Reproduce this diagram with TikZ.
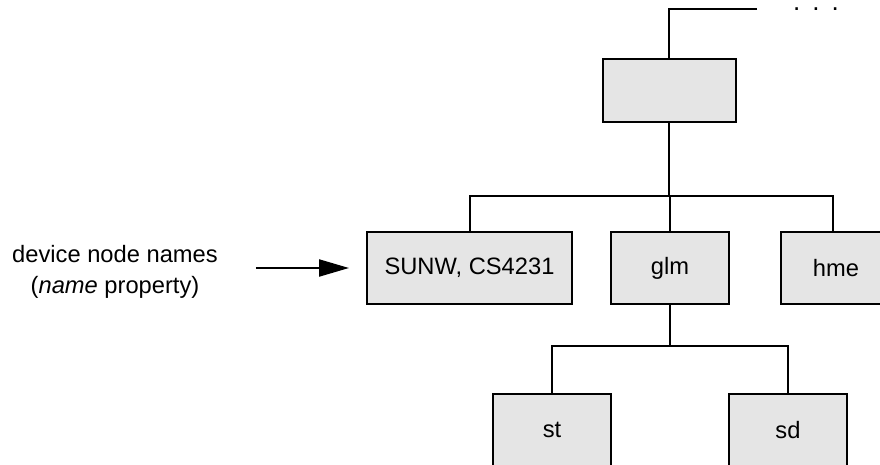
\documentclass[tikz,border=0pt]{standalone}
\usepackage{fontspec}
\setmainfont{Liberation Sans}
\usetikzlibrary{arrows.meta}
\definecolor{boxgray}{HTML}{E5E5E5}
\begin{document}
\begin{tikzpicture}[x=1pt,y=-1pt,
  box/.style={draw=black, line width=2pt, fill=boxgray, minimum height=72pt, minimum width=118pt, inner sep=0pt, font=\fontsize{23.7}{28}\selectfont},
  conn/.style={line width=2pt, line join=miter},
  lbl/.style={font=\fontsize{23.7}{31}\selectfont, inner sep=0pt, align=center},
  pointer/.style={line width=2.2pt, -{Triangle[length=30pt,width=17pt]}}]
\useasboundingbox (0,0) rectangle (880,465);
\clip (0,0) rectangle (880,465);
% nodes
\node[box, minimum width=133pt, minimum height=63pt] (top) at (669,90.5) {};
\node[box, minimum width=205pt] (sunw) at (469.5,268) {SUNW, CS4231};
\node[box] (glm) at (670,268) {glm};
\node[box, minimum width=110pt] (hme) at (836,268) {hme};
\node[box] (st) at (552,430) {st};
\node[box] (sd) at (788,430) {sd};
\node[lbl] (lab) at (115,271.5) {device node names\\(\textit{name} property)};
\node[lbl, anchor=base, font=\fontsize{26}{28}\selectfont] (dots) at (816,11) {\smash{.\hspace{12pt}.\hspace{12pt}.}};
% connectors
\coordinate (tl) at (757,9.5);
\coordinate (j1) at (670,196);
\coordinate (j2) at (670,346);
\draw[conn] (tl) -| (top.north);
\draw[conn] (top.south) -- (top.south |- j1);
\draw[conn] (sunw.north) |- (j1) -| ([xshift=-3pt]hme.north);
\draw[conn] (j1) -- (glm.north);
\draw[conn] (glm.south) -- (j2);
\draw[conn] (st.north) |- (j2) -| (sd.north);
\draw[pointer, shorten >=17pt] ([xshift=38pt]lab.east |- sunw.west) -- (sunw.west);
\end{tikzpicture}
\end{document}
